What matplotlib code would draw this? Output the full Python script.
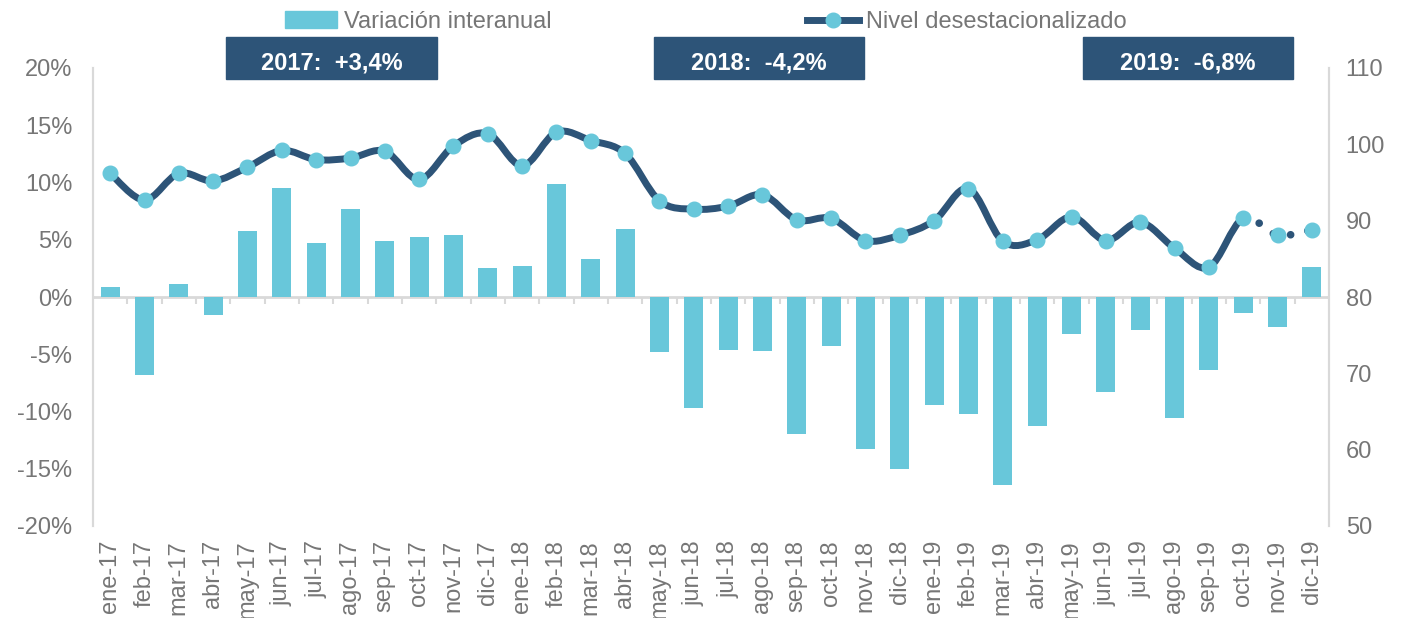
import numpy as np
import matplotlib.pyplot as plt
from matplotlib.path import Path
from matplotlib.patches import PathPatch, Patch, Rectangle
from matplotlib.lines import Line2D

# -----------------------------------------------------
# datos
# -----------------------------------------------------

meses = ["ene-17", "feb-17", "mar-17", "abr-17", "may-17", "jun-17",
         "jul-17", "ago-17", "sep-17", "oct-17", "nov-17", "dic-17",
         "ene-18", "feb-18", "mar-18", "abr-18", "may-18", "jun-18",
         "jul-18", "ago-18", "sep-18", "oct-18", "nov-18", "dic-18",
         "ene-19", "feb-19", "mar-19", "abr-19", "may-19", "jun-19",
         "jul-19", "ago-19", "sep-19", "oct-19", "nov-19", "dic-19"]

# variacion interanual (%)
variacion = [0.9, -6.8, 1.1, -1.6, 5.8, 9.5, 4.7, 7.7, 4.9, 5.2, 5.4, 2.5,
             2.7, 9.9, 3.3, 5.9, -4.8, -9.7, -4.6, -4.7, -12.0, -4.3, -13.3, -15.0,
             -9.4, -10.2, -16.4, -11.3, -3.2, -8.3, -2.9, -10.6, -6.4, -1.4, -2.6, 2.6]

# nivel desestacionalizado
nivel = [96.2, 92.7, 96.2, 95.2, 97.0, 99.2, 98.0, 98.2, 99.1, 95.4, 99.8, 101.4,
         97.2, 101.6, 100.5, 98.8, 92.6, 91.5, 91.9, 93.4, 90.1, 90.3, 87.4, 88.1,
         90.0, 94.2, 87.3, 87.5, 90.5, 87.4, 89.8, 86.4, 83.9, 90.3, 88.1, 88.8]

ultimo_real = 33   # a partir de oct-19 la linea es punteada

anios = ["2017", "2018", "2019"]
anual = ["+3,4%", "-4,2%", "-6,8%"]

# -----------------------------------------------------

azul_claro = "#68C7DA"
azul_oscuro = "#2D5478"
gris = "#767676"
gris_eje = "#D9D9D9"

plt.rcParams["font.family"] = ["Liberation Sans", "DejaVu Sans"]
plt.rcParams["font.size"] = 17


def suavizar(xs, ys, desde, hasta):
    # curva tipo Catmull-Rom (como la linea suavizada de Excel)
    n = len(xs)
    verts = [(xs[desde], ys[desde])]
    codes = [Path.MOVETO]
    for i in range(desde, hasta):
        i0 = max(i - 1, 0)
        i3 = min(i + 2, n - 1)
        c1 = (xs[i] + (xs[i + 1] - xs[i0]) / 6, ys[i] + (ys[i + 1] - ys[i0]) / 6)
        c2 = (xs[i + 1] - (xs[i3] - xs[i]) / 6, ys[i + 1] - (ys[i3] - ys[i]) / 6)
        verts += [c1, c2, (xs[i + 1], ys[i + 1])]
        codes += [Path.CURVE4] * 3
    return Path(verts, codes)


W, H = 1406, 618
fig = plt.figure(figsize=(W / 100, H / 100), dpi=100)
ax = fig.add_axes([93 / W, 1 - 526 / H, (1329 - 93) / W, (526 - 68) / H])
ax2 = ax.twinx()

x = np.arange(len(meses))

ax.bar(x, variacion, width=0.56, color=azul_claro, zorder=2)
ax.axhline(0, color=gris_eje, lw=2, zorder=1)
ax.vlines(x[:-1] + 0.5, -0.6, 0, color=gris_eje, lw=1.5, zorder=1)

ax.set_xlim(-0.5, len(meses) - 0.5)
ax.set_ylim(-20, 20)
ax.set_yticks(np.arange(-20, 21, 5))
ax.set_yticklabels([f"{v}%" for v in range(-20, 21, 5)])
ax.set_xticks(x)
ax.set_xticklabels(meses, rotation=90)
ax.tick_params(axis="x", length=0, pad=10, colors=gris)
ax.tick_params(axis="y", length=0, pad=15, colors=gris)

ax2.set_ylim(50, 110)
ax2.set_yticks(np.arange(50, 111, 10))
ax2.tick_params(axis="y", length=0, pad=12, colors=gris)

for a in (ax, ax2):
    a.spines["top"].set_visible(False)
    a.spines["bottom"].set_visible(False)
    a.spines["left"].set_color(gris_eje)
    a.spines["right"].set_color(gris_eje)
    a.spines["left"].set_linewidth(1.5)
    a.spines["right"].set_linewidth(1.5)

linea = PathPatch(suavizar(x, nivel, 0, ultimo_real), fill=False,
                  edgecolor=azul_oscuro, lw=5, capstyle="round",
                  joinstyle="round", zorder=2)
ax2.add_patch(linea)
punteada = PathPatch(suavizar(x, nivel, ultimo_real, len(meses) - 1), fill=False,
                     edgecolor=azul_oscuro, lw=5.5, capstyle="round",
                     linestyle=(0, (0.01, 2.3)), zorder=2)
ax2.add_patch(punteada)
ax2.plot(x, nivel, "o", color=azul_claro, markersize=10.5, zorder=3)

# recuadros con la variacion anual
cajas = [(226, 437), (654, 864), (1083, 1293)]
for (x0, x1), anio, valor in zip(cajas, anios, anual):
    fig.add_artist(Rectangle((x0 / W, 1 - 79 / H), (x1 - x0) / W, 42 / H,
                             transform=fig.transFigure, color=azul_oscuro))
    fig.text((x0 + x1) / 2 / W, 1 - 63 / H, f"{anio}:  {valor}", color="white",
             fontweight="bold", fontsize=17, ha="center", va="center")

handles = [Patch(color=azul_claro),
           Line2D([0], [0], color=azul_oscuro, lw=5, marker="o",
                  markersize=10.5, markerfacecolor=azul_claro,
                  markeredgecolor=azul_claro)]
fig.legend(handles, ["Variación interanual", "Nivel desestacionalizado"],
           loc="center", bbox_to_anchor=(706 / W, 1 - 22 / H), ncol=2,
           frameon=False, handlelength=2.2, handletextpad=0.3,
           columnspacing=10.8, labelcolor=gris)

fig.savefig("out.png", dpi=100)
